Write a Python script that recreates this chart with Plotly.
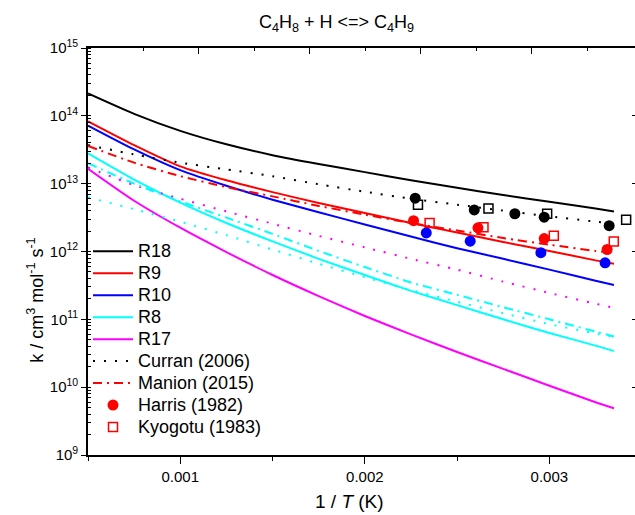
import plotly.graph_objects as go

# 1/T grid (1/K) on which the fitted rate expressions are tabulated
inv_T = [0.0005, 0.00075, 0.001, 0.00125, 0.0015, 0.00175, 0.002,
         0.00225, 0.0025, 0.00275, 0.003, 0.00325, 0.00335]

# rate constants k (cm3 mol-1 s-1)
k_R18 = [2.14e14, 1.07e14, 6.0e13, 3.8e13, 2.63e13, 1.95e13, 1.48e13,
         1.12e13, 8.7e12, 6.8e12, 5.4e12, 4.3e12, 3.9e12]
k_R9 = [8.3e13, 3.7e13, 1.8e13, 1.12e13, 7.5e12, 5.2e12, 3.7e12,
        2.63e12, 1.9e12, 1.38e12, 1.02e12, 7.4e11, 6.6e11]
k_R10 = [7.2e13, 3.2e13, 1.58e13, 9.3e12, 5.8e12, 3.8e12, 2.5e12,
         1.66e12, 1.12e12, 7.8e11, 5.4e11, 3.7e11, 3.2e11]
k_R8 = [2.8e13, 1.15e13, 5.25e12, 2.63e12, 1.41e12, 7.8e11, 4.5e11,
        2.63e11, 1.62e11, 1.0e11, 6.3e10, 4.1e10, 3.4e10]
k_R17 = [1.66e13, 5.6e12, 2.24e12, 9.8e11, 4.5e11, 2.2e11, 1.12e11,
         6.0e10, 3.3e10, 1.86e10, 1.05e10, 6.0e9, 4.9e9]

# Curran (2006)
k_curran_R18 = [3.7e13, 2.7e13, 2.04e13, 1.62e13, 1.29e13, 9.8e12, 7.6e12,
                6.0e12, 4.9e12, 4.0e12, 3.3e12, 2.75e12, 2.57e12]
k_curran_R17 = [1.74e13, 9.5e12, 6.0e12, 3.9e12, 2.57e12, 1.7e12, 1.15e12,
                7.8e11, 5.4e11, 3.6e11, 2.45e11, 1.7e11, 1.48e11]
k_curran_R8 = [6.3e12, 4.2e12, 2.75e12, 1.74e12, 1.07e12, 6.6e11, 4.2e11,
               2.7e11, 1.82e11, 1.23e11, 8.5e10, 6.2e10, 5.5e10]

# Manion (2015)
k_manion_R9 = [3.6e13, 2.04e13, 1.29e13, 8.9e12, 6.5e12, 4.7e12, 3.5e12,
               2.63e12, 2.04e12, 1.58e12, 1.26e12, 1.02e12, 9.5e11]
k_manion_R8 = [2.0e13, 1.0e13, 5.5e12, 3.16e12, 1.82e12, 1.02e12, 5.9e11,
               3.5e11, 2.3e11, 1.51e11, 1.0e11, 6.6e10, 5.6e10]

# Harris (1982) measurements
harris_R18_x = [0.002273, 0.002593, 0.002813, 0.002972, 0.003324]
harris_R18_k = [6.1e12, 4.1e12, 3.6e12, 3.2e12, 2.4e12]
harris_R9_x = [0.002264, 0.002613, 0.002972, 0.003313]
harris_R9_k = [2.85e12, 2.23e12, 1.55e12, 1.07e12]
harris_R10_x = [0.002333, 0.002571, 0.002954, 0.003302]
harris_R10_k = [1.88e12, 1.42e12, 9.6e11, 6.8e11]

# Kyogotu (1983) measurements
kyo_R18_x = [0.002288, 0.002670, 0.002988, 0.003416]
kyo_R18_k = [4.9e12, 4.3e12, 3.6e12, 2.95e12]
kyo_R9_x = [0.002351, 0.002643, 0.003024, 0.003349]
kyo_R9_k = [2.64e12, 2.27e12, 1.70e12, 1.40e12]

y_tick_exp = [9, 10, 11, 12, 13, 14, 15]
x_tick_vals = [0.001, 0.002, 0.003]
x_tick_text = ["0.001", "0.002", "0.003"]

FONT = "Liberation Sans, Arial, sans-serif"
BLACK, RED, BLUE, CYAN, MAGENTA = "#000000", "#ff0000", "#0000ff", "#00ffff", "#ff00ff"
DOT = "2px,9px"
DASHDOT = "9px,5px,2px,5px"


def label(name):
    # legend labels are set a little larger than the row pitch font
    return '<span style="font-size:18px">%s</span>' % name


fig = go.Figure()


def curve(y, color, name, dash="solid", legend=True):
    fig.add_trace(go.Scatter(
        x=inv_T, y=y, mode="lines", name=label(name), showlegend=legend,
        line=dict(color=color, width=2, dash=dash, shape="spline", smoothing=0.6),
    ))


curve(k_R18, BLACK, "R18")
curve(k_R9, RED, "R9")
curve(k_R10, BLUE, "R10")
curve(k_R8, CYAN, "R8")
curve(k_R17, MAGENTA, "R17")
curve(k_curran_R18, BLACK, "Curran (2006)", DOT)
curve(k_manion_R9, RED, "Manion (2015)", DASHDOT)
curve(k_curran_R17, MAGENTA, "Curran R17", DOT, legend=False)
curve(k_curran_R8, CYAN, "Curran R8", DOT, legend=False)
curve(k_manion_R8, CYAN, "Manion R8", DASHDOT, legend=False)


def points(x, y, color, name, symbol, legend):
    filled = symbol == "circle"
    fig.add_trace(go.Scatter(
        x=x, y=y, mode="markers", name=label(name), showlegend=legend,
        marker=dict(
            symbol=symbol, size=11 if filled else 9, color=color,
            line=dict(color=color, width=0 if filled else 1.5),
        ),
    ))


points(harris_R9_x, harris_R9_k, RED, "Harris (1982)", "circle", True)
points(kyo_R9_x, kyo_R9_k, RED, "Kyogotu (1983)", "square-open", True)
points(harris_R18_x, harris_R18_k, BLACK, "Harris R18", "circle", False)
points(harris_R10_x, harris_R10_k, BLUE, "Harris R10", "circle", False)
points(kyo_R18_x, kyo_R18_k, BLACK, "Kyogotu R18", "square-open", False)

# right-hand y axis carrying only inward decade ticks
fig.add_trace(go.Scatter(x=[None], y=[None], yaxis="y2", showlegend=False, hoverinfo="skip"))
# top axis with its own plain tick marks
fig.add_trace(go.Scatter(x=[None], y=[None], xaxis="x2", showlegend=False, hoverinfo="skip"))

fig.update_layout(
    width=635, height=515, autosize=False,
    margin=dict(l=87.5, r=0, t=47.5, b=60, pad=0),
    paper_bgcolor="white", plot_bgcolor="white",
    font=dict(family=FONT, size=15, color="black"),
    showlegend=True,
    legend=dict(
        x=0.0, y=0.54, xanchor="left", yanchor="top",
        bgcolor="rgba(0,0,0,0)", borderwidth=0,
        font=dict(family=FONT, size=14.6, color="black"),
        itemwidth=40, tracegroupgap=0,
    ),
    xaxis=dict(
        range=[0.0005, 0.003464], showgrid=False, zeroline=False,
        showline=True, linecolor="black", linewidth=1.6,
        ticks="outside", ticklen=7, tickwidth=1.3, tickcolor="black",
        tickvals=x_tick_vals, ticktext=x_tick_text,
        tickfont=dict(family=FONT, size=15),
        minor=dict(ticks="outside", ticklen=4, tickwidth=1.3, tickcolor="black",
                   dtick=0.0005, tick0=0, showgrid=False),
    ),
    xaxis2=dict(
        overlaying="x", side="top", range=[0, 9.865], showgrid=False, zeroline=False,
        showline=True, linecolor="black", linewidth=1.6,
        ticks="inside", ticklen=6, tickwidth=1.3, tickcolor="black",
        dtick=2, tick0=0, showticklabels=False,
        minor=dict(ticks="inside", ticklen=3, tickwidth=1.3, tickcolor="black",
                   dtick=1, tick0=0, showgrid=False),
    ),
    yaxis=dict(
        type="log", range=[9, 15], showgrid=False, zeroline=False,
        showline=True, linecolor="black", linewidth=1.6,
        ticks="outside", ticklen=5, tickwidth=1.3, tickcolor="black",
        tickvals=[10 ** e for e in y_tick_exp],
        ticktext=["10<sup>%d</sup>" % e for e in y_tick_exp],
        tickfont=dict(family=FONT, size=15),
        minor=dict(ticks="inside", ticklen=3, tickwidth=1, tickcolor="black",
                   dtick="D1", showgrid=False),
    ),
    yaxis2=dict(
        type="log", range=[9, 15], overlaying="y", side="right",
        showgrid=False, zeroline=False, showline=False,
        ticks="inside", ticklen=3, tickwidth=1.3, tickcolor="black",
        tickvals=[10 ** e for e in y_tick_exp], showticklabels=False,
    ),
    annotations=[
        dict(text="C<sub>4</sub>H<sub>8</sub> + H &lt;=&gt; C<sub>4</sub>H<sub>9</sub>",
             xref="paper", yref="paper", x=0.454, y=1.060, showarrow=False,
             xanchor="center", yanchor="middle", font=dict(family=FONT, size=18)),
        dict(text="1 / <i>T</i> (K)", xref="paper", yref="paper", x=0.478, y=-0.115,
             showarrow=False, xanchor="center", yanchor="middle",
             font=dict(family=FONT, size=19)),
        dict(text="k / cm<sup>3</sup> mol<sup>-1</sup> s<sup>-1</sup>",
             xref="paper", yref="paper", x=-0.096, y=0.38, textangle=-90,
             showarrow=False, xanchor="center", yanchor="middle",
             font=dict(family=FONT, size=18)),
    ],
)

fig.write_html("out.html")
